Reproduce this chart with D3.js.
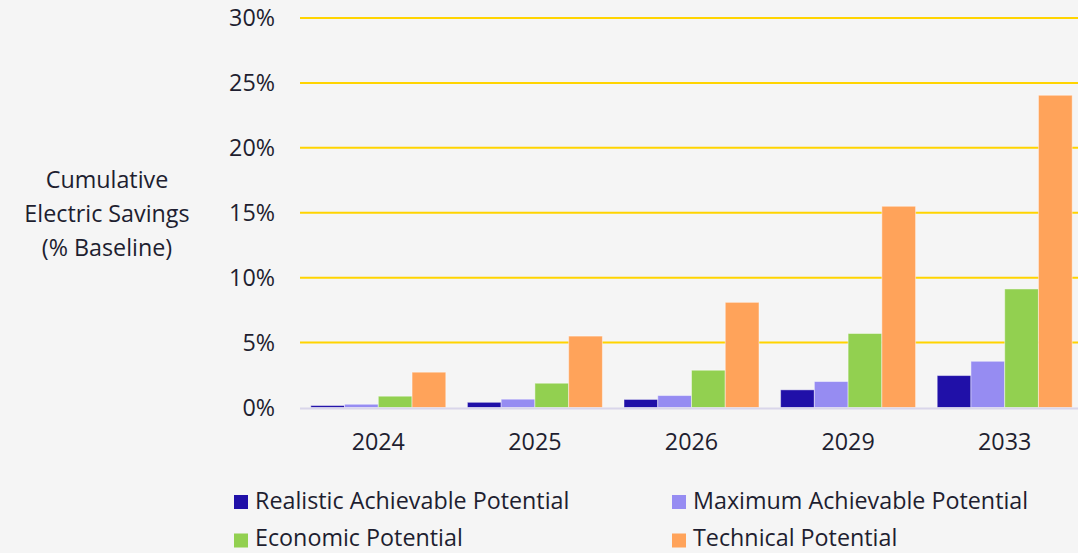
<!DOCTYPE html>
<html>
<head>
<meta charset="utf-8">
<script src="https://cdn.jsdelivr.net/npm/d3@7"></script>
<style>
html,body{margin:0;padding:0;background:#f5f5f5;}
svg{display:block;font-family:"Open Sans","Noto Sans",sans-serif;}
</style>
</head>
<body>
<svg id="chart" width="1078" height="553"></svg>
<script>
const categories = ["2024", "2025", "2026", "2029", "2033"];
const seriesNames = ["Realistic Achievable Potential", "Maximum Achievable Potential", "Economic Potential", "Technical Potential"];
const realistic = [0.15, 0.40, 0.62, 1.36, 2.46];
const maximum = [0.25, 0.64, 0.92, 2.00, 3.56];
const economic = [0.87, 1.87, 2.87, 5.70, 9.13];
const technical = [2.72, 5.50, 8.10, 15.50, 24.05];
const yTicks = [0, 5, 10, 15, 20, 25, 30];
const colors = ["#2010a8", "#968cf2", "#92d050", "#ffa35a"];

const seriesValues = [realistic, maximum, economic, technical];
const svg = d3.select("#chart");
const W = 1078, H = 553;
const FS = 23.3;
svg.append("rect").attr("width", W).attr("height", H).attr("fill", "#f5f5f5");

const x = d3.scaleBand().domain(categories).range([300, 1083]).paddingInner(0.138).paddingOuter(0.069);
const xs = d3.scaleBand().domain(d3.range(seriesNames.length)).range([0, x.bandwidth()]);
const y = d3.scaleLinear().domain([0, 30]).range([407.5, 18]);

// gridlines
svg.append("g").selectAll("line").data(yTicks.filter(d => d > 0)).join("line")
  .attr("x1", 300).attr("x2", W)
  .attr("y1", d => y(d)).attr("y2", d => y(d))
  .attr("stroke", "#ffd400").attr("stroke-width", 2);

// y tick labels
svg.append("g").selectAll("text").data(yTicks).join("text")
  .attr("x", 275).attr("y", d => y(d)).attr("dy", "0.35em")
  .attr("text-anchor", "end").attr("font-size", FS).attr("fill", "#1e1e30")
  .text(d => d + "%");

// bars
const groups = svg.append("g").selectAll("g").data(categories).join("g")
  .attr("transform", c => `translate(${x(c)},0)`);
groups.selectAll("rect").data((c, i) => seriesValues.map((s, k) => ({k, v: s[i]}))).join("rect")
  .attr("x", d => xs(d.k)).attr("width", xs.bandwidth())
  .attr("y", d => y(d.v)).attr("height", d => y(0) - y(d.v))
  .attr("fill", d => colors[d.k])
  .attr("stroke", "#ffffff").attr("stroke-opacity", 0.45).attr("stroke-width", 1);

// zero axis line
svg.append("line").attr("x1", 300).attr("x2", W).attr("y1", y(0) + 1).attr("y2", y(0) + 1)
  .attr("stroke", "#d9d6ea").attr("stroke-width", 2);

// x labels
svg.append("g").selectAll("text").data(categories).join("text")
  .attr("x", c => x(c) + x.bandwidth() / 2).attr("y", 442).attr("dy", "0.35em")
  .attr("text-anchor", "middle").attr("font-size", FS).attr("fill", "#1e1e30")
  .text(c => c);

// y axis title
const title = ["Cumulative", "Electric Savings", "(% Baseline)"];
svg.append("g").selectAll("text").data(title).join("text")
  .attr("x", 107).attr("y", (d, i) => 180 + i * 34).attr("dy", "0.35em")
  .attr("text-anchor", "middle").attr("font-size", FS).attr("fill", "#1e1e30")
  .text(d => d);

// legend
const legPos = [[234, 502, 501], [672, 502, 501], [234, 540.5, 538], [672, 540.5, 538]];
const leg = svg.append("g").selectAll("g").data(seriesNames).join("g");
leg.append("rect").attr("x", (d, i) => legPos[i][0]).attr("y", (d, i) => legPos[i][1] - 7)
  .attr("width", 14).attr("height", 14)
  .attr("fill", (d, i) => colors[i]);
leg.append("text").attr("x", (d, i) => legPos[i][0] + 21).attr("y", (d, i) => legPos[i][2]).attr("dy", "0.35em")
  .attr("font-size", FS).attr("fill", "#1e1e30").text(d => d);
</script>
</body>
</html>
